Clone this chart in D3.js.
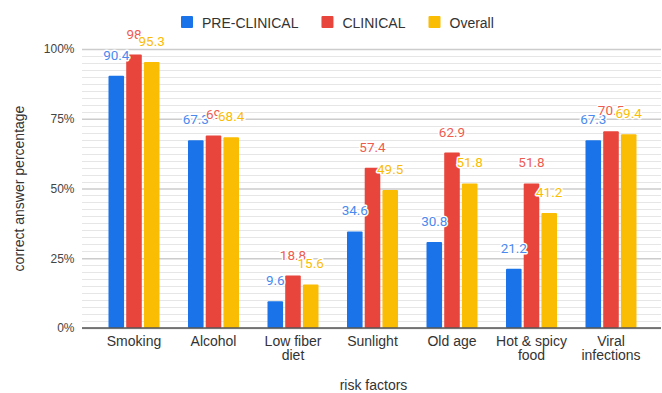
<!DOCTYPE html>
<html><head><meta charset="utf-8">
<script src="https://cdn.jsdelivr.net/npm/d3@7"></script>
<style>
html,body{margin:0;padding:0;background:#fff;}
svg{display:block;}
</style></head>
<body>
<svg id="chart" width="662" height="393"></svg>
<script>
const categories = ["Smoking", "Alcohol", "Low fiber diet", "Sunlight", "Old age", "Hot & spicy food", "Viral infections"];
const seriesNames = ["PRE-CLINICAL", "CLINICAL", "Overall"];
const preClinical = [90.4, 67.3, 9.6, 34.6, 30.8, 21.2, 67.3];
const clinical    = [98, 69, 18.8, 57.4, 62.9, 51.8, 70.5];
const overall     = [95.3, 68.4, 15.6, 49.5, 51.8, 41.2, 69.4];
const yTicks = [0, 25, 50, 75, 100];
const xTitle = "risk factors";
const yTitle = "correct answer percentage";

const barColors = ["#1a73e8", "#e8453c", "#fbbc04"];
const labelColors = ["#4a89ee", "#ee5c50", "#fbbc04"];
const values = [preClinical, clinical, overall];

const svg = d3.select("#chart");
const plotLeft = 82, plotRight = 661, plotTop = 49, plotBottom = 328;

const y = d3.scaleLinear().domain([0, 100]).range([plotBottom, plotTop]);
const x0 = d3.scaleBand().domain(categories).range([94.25, 650.75]).paddingInner(0).paddingOuter(0);
const groupW = 51;
const x1 = d3.scaleBand().domain(seriesNames).range([0, groupW]).paddingInner(0.12).paddingOuter(0);

// minor gridlines
const minor = d3.range(0, 100.01, 2.5).filter(v => v % 25 !== 0);
svg.append("g").selectAll("line").data(minor).join("line")
  .attr("x1", plotLeft).attr("x2", plotRight)
  .attr("y1", d => Math.round(y(d)) + 0.5).attr("y2", d => Math.round(y(d)) + 0.5)
  .attr("stroke", "#e6e6e6").attr("stroke-width", 1);

// y axis with major gridlines
const yAxis = d3.axisLeft(y).tickValues(yTicks).tickFormat(d => d + "%")
  .tickSize(-(plotRight - plotLeft)).tickPadding(8);
const gy = svg.append("g").attr("transform", `translate(${plotLeft},0)`).call(yAxis);
gy.select(".domain").remove();
gy.selectAll(".tick line").attr("stroke", "#cccccc").attr("stroke-width", 1.3);
gy.selectAll(".tick text").attr("font-family", "Liberation Sans, Arial, sans-serif")
  .attr("font-size", 12).attr("fill", "#444").attr("x", -7.5);

// bars
const groups = svg.append("g").selectAll("g").data(categories).join("g")
  .attr("transform", d => `translate(${x0(d) + x0.bandwidth() / 2 - groupW / 2},0)`);
groups.selectAll("rect").data((c, i) => seriesNames.map((s, k) => ({ s, k, v: values[k][i] })))
  .join("rect")
  .attr("x", d => x1(d.s))
  .attr("width", x1.bandwidth())
  .attr("y", d => y(d.v))
  .attr("height", d => y(0) - y(d.v))
  .attr("rx", 1)
  .attr("fill", d => barColors[d.k]);

// baseline
svg.append("line").attr("x1", plotLeft).attr("x2", plotRight)
  .attr("y1", y(0)).attr("y2", y(0)).attr("stroke", "#555").attr("stroke-width", 1.3);

// data labels
const labelG = svg.append("g");
categories.forEach((c, i) => {
  seriesNames.forEach((s, k) => {
    const v = values[k][i];
    labelG.append("text")
      .attr("x", x0(c) + x0.bandwidth() / 2 - groupW / 2 + x1(s) + x1.bandwidth() / 2)
      .attr("y", y(v) - 16)
      .attr("text-anchor", "middle")
      .attr("font-family", "Roboto, Arial, sans-serif")
      .attr("font-size", 13.5)
      .attr("fill", labelColors[k])
      .attr("stroke", "#fff").attr("stroke-width", 3).attr("paint-order", "stroke")
      .attr("stroke-linejoin", "round")
      .text(String(v));
  });
});

// x category labels (wrapped to band width)
const xAxis = d3.axisBottom(x0).tickSize(0).tickPadding(0);
const gx = svg.append("g").attr("transform", `translate(0,${plotBottom})`).call(xAxis);
gx.select(".domain").remove();
gx.selectAll(".tick text").each(function (d) {
  const t = d3.select(this);
  t.text(null).attr("y", 18).attr("dy", null)
    .attr("font-family", "Liberation Sans, Arial, sans-serif")
    .attr("font-size", 14).attr("fill", "#333");
  const words = d.split(" ");
  let line = [], lines = [];
  const probe = t.append("tspan");
  words.forEach(w => {
    const test = line.concat([w]).join(" ");
    probe.text(test);
    if (probe.node().getComputedTextLength() > x0.bandwidth() - 4 && line.length) {
      lines.push(line.join(" "));
      line = [w];
    } else line.push(w);
  });
  lines.push(line.join(" "));
  probe.remove();
  lines.forEach((ln, j) => {
    t.append("tspan").attr("x", 0).attr("y", 18 + j * 14).text(ln);
  });
});

// axis titles
svg.append("text").attr("x", (plotLeft + plotRight) / 2 + 2).attr("y", 390)
  .attr("text-anchor", "middle").attr("font-family", "Liberation Sans, Arial, sans-serif")
  .attr("font-size", 14).attr("fill", "#333").text(xTitle);
svg.append("text").attr("transform", `translate(24,${(plotTop + plotBottom) / 2}) rotate(-90)`)
  .attr("text-anchor", "middle").attr("font-family", "Liberation Sans, Arial, sans-serif")
  .attr("font-size", 14).attr("fill", "#333").text(yTitle);

// legend
const legend = svg.append("g");
let lx = 181;
seriesNames.forEach((s, k) => {
  legend.append("rect").attr("x", lx).attr("y", 16).attr("width", 12).attr("height", 12)
    .attr("rx", 1).attr("fill", barColors[k]);
  const t = legend.append("text").attr("x", lx + 21).attr("y", 27.5)
    .attr("font-family", "Liberation Sans, Arial, sans-serif")
    .attr("font-size", 14).attr("fill", "#333").text(s);
  lx = lx + 21 + t.node().getComputedTextLength() + 23;
});
</script>
</body></html>
